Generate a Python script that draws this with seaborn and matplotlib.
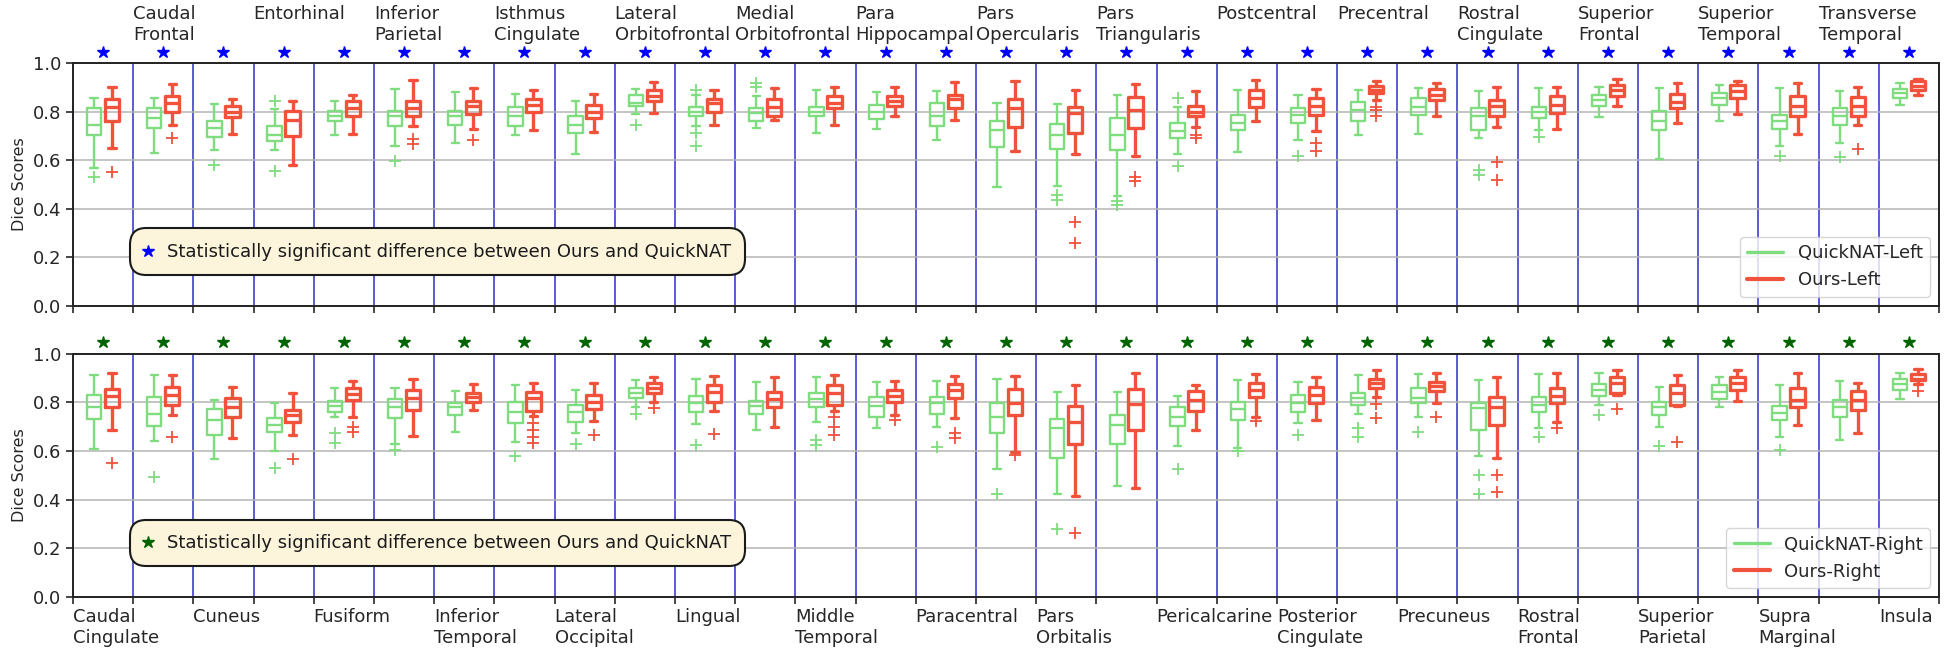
import numpy as np
import pandas as pd
import matplotlib
matplotlib.use("Agg")
import matplotlib.pyplot as plt
from matplotlib.lines import Line2D
from matplotlib.colors import to_hex
import seaborn as sns

# ---------------------------------------------------------------- data
regions = ["Caudal Cingulate", "Caudal Frontal", "Cuneus", "Entorhinal", "Fusiform",
           "Inferior Parietal", "Inferior Temporal", "Isthmus Cingulate", "Lateral Occipital",
           "Lateral Orbitofrontal", "Lingual", "Medial Orbitofrontal", "Middle Temporal",
           "Para Hippocampal", "Paracentral", "Pars Opercularis", "Pars Orbitalis",
           "Pars Triangularis", "Pericalcarine", "Postcentral", "Posterior Cingulate",
           "Precentral", "Precuneus", "Rostral Cingulate", "Rostral Frontal",
           "Superior Frontal", "Superior Parietal", "Superior Temporal", "Supra Marginal",
           "Transverse Temporal", "Insula"]

# box summaries per region: (lower whisker, Q1, median, Q3, upper whisker)
quicknat_left = [
    (0.569, 0.704, 0.746, 0.814, 0.856), (0.631, 0.732, 0.773, 0.814, 0.856),
    (0.640, 0.695, 0.732, 0.759, 0.832), (0.640, 0.677, 0.705, 0.740, 0.810),
    (0.702, 0.759, 0.783, 0.803, 0.845), (0.656, 0.741, 0.780, 0.801, 0.893),
    (0.670, 0.746, 0.780, 0.801, 0.879), (0.702, 0.739, 0.783, 0.818, 0.873),
    (0.624, 0.711, 0.746, 0.780, 0.842), (0.791, 0.821, 0.835, 0.869, 0.893),
    (0.740, 0.780, 0.800, 0.820, 0.870), (0.732, 0.759, 0.794, 0.814, 0.862),
    (0.711, 0.780, 0.800, 0.818, 0.890), (0.728, 0.769, 0.800, 0.828, 0.879),
    (0.684, 0.741, 0.783, 0.835, 0.883), (0.488, 0.652, 0.722, 0.763, 0.835),
    (0.494, 0.646, 0.704, 0.750, 0.831), (0.450, 0.640, 0.704, 0.775, 0.869),
    (0.626, 0.690, 0.718, 0.752, 0.820), (0.635, 0.725, 0.752, 0.787, 0.887),
    (0.684, 0.752, 0.787, 0.814, 0.869), (0.704, 0.759, 0.807, 0.838, 0.887),
    (0.708, 0.787, 0.818, 0.856, 0.897), (0.691, 0.725, 0.780, 0.814, 0.883),
    (0.725, 0.773, 0.800, 0.818, 0.897), (0.777, 0.821, 0.849, 0.869, 0.901),
    (0.604, 0.725, 0.763, 0.801, 0.897), (0.763, 0.828, 0.856, 0.876, 0.911),
    (0.656, 0.728, 0.763, 0.787, 0.897), (0.670, 0.746, 0.780, 0.814, 0.883),
    (0.828, 0.856, 0.876, 0.893, 0.917)]
quicknat_left_outliers = [
    [0.532], [], [0.579], [0.553, 0.845], [], [0.597], [], [], [], [0.745],
    [0.710, 0.660, 0.890], [0.900, 0.917], [], [], [], [], [0.457, 0.436], [0.432, 0.415],
    [0.574, 0.855], [], [0.615], [], [], [0.560, 0.539], [0.697], [], [], [], [0.615],
    [0.612], []]

ours_left = [
    (0.648, 0.762, 0.818, 0.851, 0.901), (0.744, 0.800, 0.835, 0.865, 0.913),
    (0.707, 0.776, 0.800, 0.821, 0.851), (0.578, 0.700, 0.766, 0.801, 0.845),
    (0.708, 0.783, 0.814, 0.842, 0.869), (0.741, 0.783, 0.814, 0.842, 0.928),
    (0.729, 0.790, 0.821, 0.842, 0.897), (0.725, 0.800, 0.828, 0.851, 0.887),
    (0.715, 0.773, 0.800, 0.828, 0.873), (0.796, 0.842, 0.865, 0.887, 0.920),
    (0.746, 0.800, 0.835, 0.851, 0.890), (0.765, 0.780, 0.820, 0.850, 0.897),
    (0.743, 0.814, 0.835, 0.862, 0.901), (0.780, 0.821, 0.842, 0.862, 0.901),
    (0.766, 0.814, 0.851, 0.869, 0.920), (0.638, 0.735, 0.814, 0.853, 0.927),
    (0.626, 0.711, 0.794, 0.818, 0.887), (0.615, 0.732, 0.805, 0.860, 0.913),
    (0.736, 0.780, 0.800, 0.821, 0.883), (0.763, 0.818, 0.856, 0.887, 0.931),
    (0.718, 0.787, 0.821, 0.856, 0.894), (0.846, 0.875, 0.890, 0.905, 0.927),
    (0.780, 0.846, 0.869, 0.893, 0.917), (0.736, 0.783, 0.821, 0.849, 0.901),
    (0.728, 0.796, 0.828, 0.862, 0.901), (0.824, 0.862, 0.887, 0.911, 0.934),
    (0.752, 0.814, 0.838, 0.872, 0.917), (0.790, 0.856, 0.883, 0.911, 0.927),
    (0.707, 0.780, 0.821, 0.862, 0.917), (0.746, 0.783, 0.821, 0.860, 0.901),
    (0.869, 0.887, 0.906, 0.924, 0.934)]
ours_left_outliers = [
    [0.549], [0.690], [], [], [], [0.685, 0.668], [0.681], [], [], [], [], [], [], [], [],
    [], [0.343, 0.260], [0.532, 0.512], [0.704, 0.690], [], [0.670, 0.636],
    [0.820, 0.805, 0.780], [], [0.594, 0.519], [], [], [], [], [], [0.647], []]

quicknat_right = [
    (0.610, 0.730, 0.779, 0.830, 0.912), (0.642, 0.702, 0.752, 0.820, 0.912),
    (0.569, 0.665, 0.727, 0.771, 0.809), (0.601, 0.679, 0.706, 0.734, 0.796),
    (0.741, 0.761, 0.785, 0.805, 0.857), (0.630, 0.737, 0.779, 0.813, 0.857),
    (0.679, 0.750, 0.779, 0.796, 0.848), (0.638, 0.714, 0.762, 0.803, 0.871),
    (0.675, 0.720, 0.760, 0.790, 0.852), (0.779, 0.816, 0.840, 0.857, 0.892),
    (0.713, 0.761, 0.796, 0.826, 0.894), (0.686, 0.754, 0.785, 0.807, 0.885),
    (0.720, 0.782, 0.812, 0.840, 0.905), (0.693, 0.741, 0.785, 0.820, 0.882),
    (0.697, 0.752, 0.796, 0.820, 0.888), (0.528, 0.675, 0.738, 0.796, 0.898),
    (0.425, 0.573, 0.693, 0.730, 0.844), (0.455, 0.628, 0.706, 0.748, 0.844),
    (0.620, 0.702, 0.738, 0.779, 0.826), (0.611, 0.727, 0.771, 0.803, 0.892),
    (0.714, 0.762, 0.796, 0.830, 0.885), (0.752, 0.789, 0.816, 0.837, 0.912),
    (0.738, 0.796, 0.816, 0.857, 0.916), (0.579, 0.686, 0.775, 0.796, 0.892),
    (0.693, 0.761, 0.789, 0.823, 0.916), (0.789, 0.826, 0.850, 0.875, 0.922),
    (0.700, 0.748, 0.779, 0.802, 0.864), (0.779, 0.812, 0.844, 0.871, 0.903),
    (0.658, 0.727, 0.757, 0.785, 0.871), (0.647, 0.741, 0.779, 0.809, 0.889),
    (0.812, 0.850, 0.875, 0.894, 0.922)]
quicknat_right_outliers = [
    [], [0.494], [], [0.531], [0.675, 0.631], [0.605], [], [0.580], [0.630], [0.754],
    [0.624], [], [0.645, 0.624], [], [0.615], [0.422], [0.281], [], [0.528], [0.600],
    [0.666], [0.693, 0.658], [0.679], [0.501, 0.425], [0.658], [0.748], [0.620], [],
    [0.604], [], []]

ours_right = [
    (0.686, 0.779, 0.826, 0.853, 0.922), (0.748, 0.789, 0.830, 0.864, 0.912),
    (0.652, 0.741, 0.779, 0.816, 0.864), (0.665, 0.720, 0.748, 0.768, 0.837),
    (0.741, 0.809, 0.834, 0.857, 0.888), (0.663, 0.768, 0.816, 0.850, 0.894),
    (0.768, 0.802, 0.820, 0.837, 0.875), (0.745, 0.765, 0.817, 0.844, 0.878),
    (0.725, 0.772, 0.800, 0.832, 0.878), (0.802, 0.840, 0.857, 0.878, 0.905),
    (0.765, 0.802, 0.844, 0.871, 0.908), (0.700, 0.779, 0.812, 0.844, 0.905),
    (0.765, 0.790, 0.840, 0.871, 0.912), (0.748, 0.802, 0.826, 0.850, 0.888),
    (0.734, 0.816, 0.850, 0.875, 0.908), (0.597, 0.748, 0.798, 0.853, 0.908),
    (0.414, 0.628, 0.720, 0.785, 0.871), (0.450, 0.686, 0.793, 0.853, 0.922),
    (0.686, 0.765, 0.808, 0.845, 0.871), (0.740, 0.823, 0.851, 0.878, 0.916),
    (0.727, 0.796, 0.830, 0.864, 0.905), (0.820, 0.857, 0.878, 0.894, 0.933),
    (0.796, 0.848, 0.867, 0.885, 0.919), (0.573, 0.706, 0.779, 0.823, 0.905),
    (0.720, 0.798, 0.826, 0.857, 0.922), (0.830, 0.837, 0.881, 0.905, 0.933),
    (0.785, 0.789, 0.837, 0.871, 0.912), (0.807, 0.850, 0.878, 0.905, 0.933),
    (0.706, 0.779, 0.809, 0.857, 0.922), (0.675, 0.768, 0.809, 0.848, 0.878),
    (0.875, 0.890, 0.898, 0.915, 0.936)]
ours_right_outliers = [
    [0.551], [0.658], [], [0.569], [0.700, 0.680], [], [], [0.714, 0.686, 0.658, 0.632],
    [0.665], [0.775], [0.669], [], [0.740, 0.700, 0.665], [0.727], [0.672, 0.652],
    [0.583], [0.261], [], [], [0.725], [], [0.795, 0.734], [0.741], [0.501, 0.432],
    [0.693], [0.771], [0.638], [], [], [], [0.845]]

# statistically significant difference marker per region
significant_left = ["*", "*", "*", "*", "*", "*", "*", "*", "*", "*", "*", "*", "*", "*", "*", "*",
                    "*", "*", "*", "*", "*", "*", "*", "*", "*", "*", "*", "*", "*", "*", "*"]
significant_right = ["*", "*", "*", "*", "*", "*", "*", "*", "*", "*", "*", "*", "*", "*", "*", "*",
                     "*", "*", "*", "*", "*", "*", "*", "*", "*", "*", "*", "*", "*", "*", "*"]
note_text = "Statistically significant difference between Ours and QuickNAT"

# ---------------------------------------------------------------- samples
# Each summary is expanded into a small sample whose quartiles, whisker
# ends (as percentiles) and fliers reproduce the read box exactly.
L_SLOT, M_SLOT = 4, 8
WHIS = (100 * L_SLOT / (4 * M_SLOT), 100 * (4 * M_SLOT - L_SLOT) / (4 * M_SLOT))


def expand(stats, outs):
    lo, q1, med, q3, hi = stats
    low = sorted(o for o in outs if o < lo)
    high = sorted(o for o in outs if o > hi)
    return (low + [lo] * (L_SLOT + 1 - len(low)) + [q1] * (2 * M_SLOT - L_SLOT - 1)
            + [med] * M_SLOT + [q3] * (M_SLOT - L_SLOT)
            + [hi] * (L_SLOT + 1 - len(high)) + high)


def build(method, stats, outliers):
    rows = []
    for region, st, ou in zip(regions, stats, outliers):
        for v in expand(st, ou):
            rows.append((region, method, v))
    return rows


left_methods = ["QuickNAT-Left", "Ours-Left"]
right_methods = ["QuickNAT-Right", "Ours-Right"]
df_left = pd.DataFrame(build(left_methods[0], quicknat_left, quicknat_left_outliers)
                       + build(left_methods[1], ours_left, ours_left_outliers),
                       columns=["region", "method", "dice"])
df_right = pd.DataFrame(build(right_methods[0], quicknat_right, quicknat_right_outliers)
                        + build(right_methods[1], ours_right, ours_right_outliers),
                        columns=["region", "method", "dice"])

# ---------------------------------------------------------------- style
sns.set_theme(style="white")
plt.rcParams["font.family"] = ["DejaVu Sans"]
GREEN = "#7fdc7f"
RED = "#f0523c"
BLUE_LINE = "#5a5ad6"
FS = 13
LW_GREEN, LW_RED = 1.7, 2.4

fig = plt.figure(figsize=(19.5, 6.52), dpi=100)
ax_top = fig.add_axes([0.0374, 0.5311, 0.957, 0.3723])
ax_bot = fig.add_axes([0.0374, 0.0844, 0.957, 0.3731])


def draw(ax, df, methods, sig, star_color, label_top):
    pal = dict(zip(methods, [GREEN, RED]))
    sns.boxplot(data=df, x="region", y="dice", hue="method",
                hue_order=methods, order=regions, palette=pal, fill=False,
                width=0.6, gap=0.2, linewidth=LW_GREEN, whis=WHIS,
                flierprops=dict(marker="+", markersize=9, markeredgewidth=1.3),
                legend=False, ax=ax)
    # thicker strokes for the "Ours" boxes
    red_hex = to_hex(RED)
    for ln in ax.lines:
        if to_hex(ln.get_color()) == red_hex and ln.get_linestyle() not in ("None", ""):
            ln.set_linewidth(LW_RED)
    for p in ax.patches:
        if to_hex(p.get_edgecolor()) == red_hex:
            p.set_linewidth(LW_RED)

    n = len(regions)
    ax.set_xlim(-0.5, n - 0.5)
    ax.set_ylim(0, 1.0)
    ax.set_yticks(np.arange(0, 1.01, 0.2))
    ax.set_yticklabels([f"{t:.1f}" for t in np.arange(0, 1.01, 0.2)], fontsize=FS)
    ax.set_ylabel("Dice Scores", fontsize=11.5)
    ax.set_xlabel("")

    # region labels at the left boundary of each region
    labels = []
    for i in range(n + 1):
        if i < n and (i % 2 == 1) == label_top:
            name = regions[i].replace(" ", "\n")
            if label_top and "\n" not in name:
                name += "\n"
            labels.append(name)
        else:
            labels.append("")
    ax.set_xticks(np.arange(n + 1) - 0.5)
    ax.set_xticklabels(labels, ha="left", fontsize=FS)
    if label_top:
        ax.tick_params(axis="x", bottom=True, top=False, labelbottom=False,
                       labeltop=True, length=5, width=1.2, pad=9, direction="out")
    else:
        ax.tick_params(axis="x", bottom=True, top=False, labelbottom=True,
                       labeltop=False, length=5, width=1.2, pad=3, direction="out")
    ax.tick_params(axis="y", left=True, length=5, width=1.2, direction="out")

    ax.set_axisbelow(True)
    ax.yaxis.grid(True, color="#b4b4b4", lw=1.1)
    ax.xaxis.grid(True, color=BLUE_LINE, lw=1.4)
    for s in ax.spines.values():
        s.set_visible(True)
        s.set_color("#222222")
        s.set_linewidth(1.4)

    # significance stars above each region
    xs = [i for i, s in enumerate(sig) if s == "*"]
    ax.plot(xs, [1.047] * len(xs), ls="none", marker="*", ms=9, color=star_color,
            clip_on=False, zorder=5)

    # method legend
    handles = [Line2D([], [], color=GREEN, lw=2.4, label=methods[0]),
               Line2D([], [], color=RED, lw=3.0, label=methods[1])]
    leg1 = ax.legend(handles=handles, loc="lower right", fontsize=FS, framealpha=0.8,
                     edgecolor="#cccccc")
    ax.add_artist(leg1)

    # significance note (rounded box)
    star_handle = Line2D([], [], ls="none", marker="*", ms=9, color=star_color,
                         label=note_text)
    leg2 = ax.legend(handles=[star_handle], loc="center left",
                     bbox_to_anchor=(0.0305, 0.222), borderaxespad=0,
                     fontsize=FS, handlelength=0.4, handletextpad=0.85,
                     borderpad=0.8, frameon=True, framealpha=1.0,
                     facecolor="#fcf5dc", edgecolor="#1a1a1a")
    fr = leg2.get_frame()
    fr.set_linewidth(1.5)
    fr.set_boxstyle("round,pad=0,rounding_size=0.9")
    for t in leg2.get_texts():
        t.set_color("#1a1a1a")
    leg2.set_zorder(6)


draw(ax_top, df_left, left_methods, significant_left, "#0000ff", True)
draw(ax_bot, df_right, right_methods, significant_right, "#006400", False)

fig.savefig("out.png", dpi=100)
